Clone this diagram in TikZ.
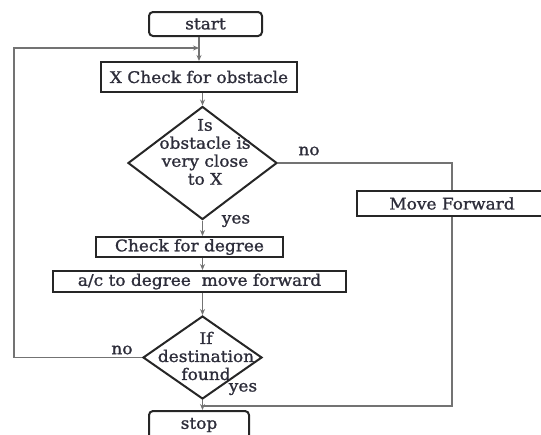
\documentclass[tikz,border=0pt]{standalone}
\usepackage{fontspec}
\setmainfont[FakeStretch=1.06,FakeBold=1.2]{DejaVu Serif}
\usetikzlibrary{shapes.geometric,arrows.meta}
\definecolor{txtcol}{RGB}{45,45,58}
\definecolor{linecol}{RGB}{115,115,115}

\begin{document}
\begin{tikzpicture}[x=1pt,y=-1pt,
    every node/.style={text=txtcol, font=\fontsize{16}{18}\selectfont, inner sep=0pt},
    box/.style={draw=black!85, line width=2pt, rectangle, minimum width=#1},
    term/.style={box=#1, rounded corners=4pt},
    decision/.style={draw=black!85, line width=2pt, diamond},
    conn/.style={draw=linecol, line width=1.5pt},
    arr/.style={conn, -{Stealth[length=6pt,width=5pt]}}]
    \useasboundingbox (0,0) rectangle (541,434);
    \node[term=113, minimum height=24] (start) at (205.5,24) {start};
    \node[box=196, minimum height=30] (check) at (199,77) {X Check for obstacle};
    \node[decision, minimum width=149, minimum height=113] (d1) at (202.5,163) {};
    \node[align=center] (d1text) at (205,152) {Is\\obstacle is\\very close\\to X};
    \node[box=190, minimum height=25] (mf) at (452,203.5) {Move Forward};
    \node[box=187, minimum height=20] (cfd) at (189.5,247) {Check for degree};
    \node[box=293, minimum height=21] (ac) at (199.5,281.5) {a/c to degree\ \ move forward};
    \node[decision, minimum width=119, minimum height=83] (d2) at (202.5,357.5) {};
    \node[align=center] (d2text) at (206,356) {If\\destination\\found};
    \node[term=100, minimum height=28] (stop) at (199,425) {stop};
    \node (no1) at (309,151) {no};
    \node (yes1) at (236,221) {yes};
    \node (no2) at (122,350) {no};
    \node (yes2) at (243,389) {yes};
    \coordinate (loop) at (14,48);
    \coordinate (join) at (202.5,406);
    \draw[arr] (start.south -| check.north) -- (check.north);
    \draw[arr] (check.south -| d1.north) -- (d1.north);
    \draw[arr] (d1.south) -- (d1.south |- cfd.north);
    \draw[arr] (cfd.south -| d1.south) -- (d1.south |- ac.north);
    \draw[arr] (ac.south -| d2.north) -- (d2.north);
    \draw[arr] (d2.south) -- (d2.south |- stop.north);
    \draw[conn] (d1.east) -| (mf.north);
    \draw[conn] (mf.south) |- (join);
    \draw[arr] (d2.west) -| (loop) -- (loop -| check.north);
\end{tikzpicture}
\end{document}
